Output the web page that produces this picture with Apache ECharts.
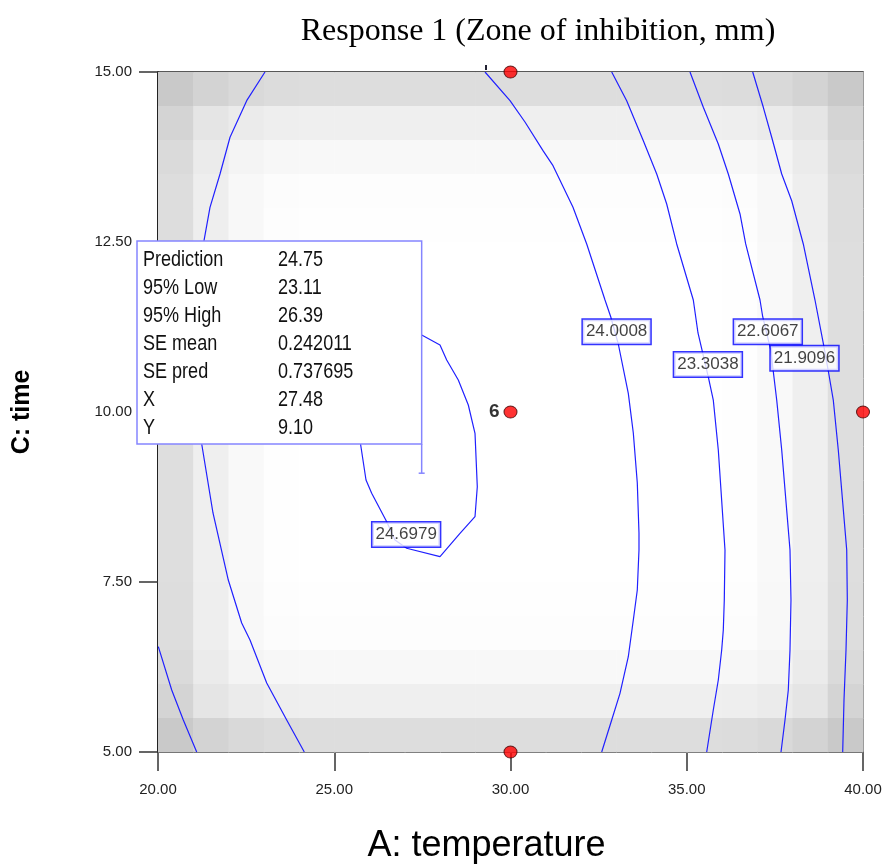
<!DOCTYPE html>
<html>
<head>
<meta charset="utf-8">
<script src="https://cdn.jsdelivr.net/npm/echarts@6/dist/echarts.min.js"></script>
<style>
html,body{margin:0;padding:0;background:#fff;}
#chart{width:882px;height:867px;}
</style>
</head>
<body>
<div id="chart"></div>
<script>
// ---------- data ----------
const titleText = 'Response 1 (Zone of inhibition, mm)';
const xName = 'A: temperature';
const yName = 'C: time';

// design points
const designX = [30, 30, 40, 30];
const designY = [15, 10, 10, 5];
const designLabel = ['', '6', '', ''];

// contour lines (data coordinates: temperature, time)
const contourA_x = [23.035,22.516,22.043,21.759,21.475,21.305,21.206,21.163,21.177,21.240,21.560,21.994,22.374,22.610,23.084,23.651,24.150];
const contourA_y = [15.000,14.578,14.040,13.500,13.010,12.519,11.647,10.765,9.882,9.529,8.515,7.529,6.897,6.647,6.015,5.471,5.000];

const contourB_x = [20.009,20.389,20.718,21.098];
const contourB_y = [6.549,5.912,5.471,5.000];

const contourC_x = [29.277,29.986,30.411,30.922,31.206,31.773,32.162,32.681,32.843,33.058,33.342,33.484,33.597,33.645,33.645,33.597,33.484,33.342,33.106,32.871,32.587];
const contourC_y = [15.000,14.578,14.265,13.843,13.622,13.010,12.471,11.647,11.401,11.000,10.275,9.691,8.956,8.221,7.971,7.382,6.941,6.401,5.863,5.471,5.000];

const contourD_x = [32.871,33.296,33.768,34.148,34.431,34.715,35.186,35.319,35.611,35.753,35.895,36.085,36.065,36.037,35.991,35.895,35.753,35.566];
const contourD_y = [15.000,14.578,13.990,13.500,13.059,12.471,11.647,11.162,10.515,10.176,9.441,7.971,7.235,6.794,6.500,6.059,5.618,5.000];

const contourE_x = [35.092,35.470,35.895,36.179,36.511,36.672,37.078,37.155,37.382,37.552,37.694,37.929,37.957,37.929,37.881,37.787,37.674];
const contourE_y = [15.000,14.481,13.941,13.500,12.912,12.471,11.647,11.401,10.912,10.176,9.441,7.971,7.235,6.500,5.912,5.471,5.000];

const contourF_x = [36.871,37.172,37.410,37.694,37.977,38.306,38.638,38.874,39.016,39.157,39.299,39.538,39.555,39.518,39.461,39.424];
const contourF_y = [15.000,14.481,14.040,13.500,13.107,12.471,11.647,11.010,10.603,10.176,9.441,7.971,7.235,6.500,5.765,5.000];

const contourG_x = [27.149,27.481,28.000,28.190,28.519,28.803,28.993,29.058,28.993,28.567,28.000,27.055,26.723,26.488,26.062,25.901,25.750,25.674];
const contourG_y = [11.176,11.132,10.985,10.765,10.471,10.103,9.687,8.901,8.460,8.216,7.872,7.996,8.118,8.387,8.804,9.000,9.515,9.809];

// contour value labels
const contourLabelText = ['24.0008','23.3038','22.6067','21.9096','24.6979'];
const contourLabelX = [33.01, 35.60, 37.30, 38.34, 27.04];
const contourLabelY = [11.18, 10.70, 11.18, 10.79, 8.20];

// standard-error shading, grey levels per cell (rows top -> bottom, columns left -> right)
const shadeEdge   = [201,211,217,220,221,221,221,221,221,221,221,221,221,221,221,221,220,217,211,201];
const shadeNear1  = [212,229,235,238,239,239,239,239,239,239,239,239,239,239,239,239,238,235,229,212];
const shadeNear2  = [218,235,244,247,248,248,248,248,248,248,248,248,248,248,248,248,247,244,235,218];
const shadeNear3  = [221,238,248,252,253,253,253,253,253,253,253,253,253,253,253,253,252,248,238,221];
const shadeNear4  = [221,238,248,253,254,254,254,254,254,254,254,254,254,254,254,254,253,248,238,221];
const shadeCenter = [222,239,249,254,255,255,255,255,255,255,255,255,255,255,255,255,254,249,239,222];
const shadeGrid = [shadeEdge, shadeNear1, shadeNear2, shadeNear3, shadeNear4,
  shadeCenter, shadeCenter, shadeCenter, shadeCenter, shadeCenter,
  shadeCenter, shadeCenter, shadeCenter, shadeCenter, shadeCenter,
  shadeNear4, shadeNear3, shadeNear2, shadeNear1, shadeEdge];

// prediction box
const tipLabels = ['Prediction','95% Low','95% High','SE mean','SE pred','X','Y'];
const tipValues = ['24.75','23.11','26.39','0.242011','0.737695','27.48','9.10'];
const tipPoint = [27.48, 9.10];

// axes
const X_MIN = 20, X_MAX = 40, X_STEP = 5;
const Y_MIN = 5, Y_MAX = 15, Y_STEP = 2.5;

// ---------- build ----------
const SANS = '"Liberation Sans",Arial,sans-serif';
const nCols = shadeGrid[0].length, nRows = shadeGrid.length;
const cellW = (X_MAX - X_MIN) / nCols, cellH = (Y_MAX - Y_MIN) / nRows;
const shadeData = [];
shadeGrid.forEach((row, r) => row.forEach((g, c) => {
  shadeData.push([X_MIN + c * cellW, Y_MAX - r * cellH, g]);
}));

const contours = [
  [contourA_x, contourA_y], [contourB_x, contourB_y], [contourC_x, contourC_y],
  [contourD_x, contourD_y], [contourE_x, contourE_y], [contourF_x, contourF_y],
  [contourG_x, contourG_y]
];
const LINE_COLOR = '#2020ff';

const series = [];
series.push({
  type: 'custom',
  z: 1,
  silent: true,
  data: shadeData,
  renderItem: function (params, api) {
    const x0 = api.value(0), y0 = api.value(1), g = api.value(2);
    const p0 = api.coord([x0, y0]);
    const p1 = api.coord([x0 + cellW, y0 - cellH]);
    return {
      type: 'rect',
      shape: { x: p0[0], y: p0[1], width: p1[0] - p0[0] + 0.6, height: p1[1] - p0[1] + 0.6 },
      style: { fill: 'rgb(' + g + ',' + g + ',' + g + ')' }
    };
  }
});
contours.forEach(function (c) {
  series.push({
    type: 'line',
    z: 2,
    silent: true,
    showSymbol: false,
    symbol: 'none',
    smooth: false,
    clip: true,
    lineStyle: { color: LINE_COLOR, width: 1.2 },
    data: c[0].map((x, i) => [x, c[1][i]])
  });
});
series.push({
  type: 'scatter',
  z: 3,
  silent: true,
  symbolSize: 0,
  clip: false,
  data: contourLabelText.map((t, i) => ({ name: t, value: [contourLabelX[i], contourLabelY[i]] })),
  label: {
    show: true,
    position: 'inside',
    formatter: '{b}',
    fontFamily: SANS,
    fontSize: 17,
    lineHeight: 19,
    color: '#111',
    backgroundColor: '#fff',
    borderColor: '#0000ff',
    borderWidth: 1.5,
    padding: [3, 3, 2, 3]
  }
});
series.push({
  type: 'scatter',
  z: 4,
  silent: true,
  clip: false,
  symbol: 'circle',
  symbolSize: [13, 12],
  itemStyle: { color: '#ff0000', borderColor: '#400', borderWidth: 1 },
  data: designX.map((x, i) => ({
    value: [x, designY[i]],
    label: {
      show: designLabel[i] !== '',
      position: 'left',
      distance: 4,
      formatter: designLabel[i],
      fontFamily: SANS,
      fontWeight: 'bold',
      fontSize: 19,
      color: '#000'
    }
  }))
});

const chart = echarts.init(document.getElementById('chart'), null, { renderer: 'canvas' });
chart.setOption({
  animation: false,
  backgroundColor: '#fff',
  title: {
    text: titleText,
    left: 533,
    top: 11,
    textAlign: 'center',
    textStyle: { fontFamily: '"Liberation Serif","Times New Roman",serif', fontWeight: 'normal', fontSize: 32, color: '#000' }
  },
  grid: {
    left: 158, top: 72, width: 705, height: 680,
    show: true, borderColor: '#222', borderWidth: 1.5, backgroundColor: 'transparent',
    containLabel: false, outerBoundsMode: 'none'
  },
  xAxis: {
    type: 'value', min: X_MIN, max: X_MAX, interval: X_STEP,
    axisLine: { show: true, onZero: false, lineStyle: { color: '#111', width: 1.5 } },
    axisTick: { show: true, length: 19, lineStyle: { color: '#333', width: 1.5 } },
    axisLabel: { formatter: v => v.toFixed(2), margin: 30, fontFamily: SANS, fontSize: 15, color: '#222', showMinLabel: true, showMaxLabel: true },
    splitLine: { show: false },
    name: xName, nameLocation: 'middle', nameGap: 76,
    nameTextStyle: { fontFamily: SANS, fontSize: 36, color: '#000', padding: [0, 48, 0, 0] }
  },
  yAxis: {
    type: 'value', min: Y_MIN, max: Y_MAX, interval: Y_STEP,
    axisLine: { show: true, onZero: false, lineStyle: { color: '#111', width: 1.5 } },
    axisTick: { show: true, length: 19, lineStyle: { color: '#333', width: 1.5 } },
    axisLabel: { formatter: v => v.toFixed(2), margin: 26, fontFamily: SANS, fontSize: 15, color: '#222', showMinLabel: true, showMaxLabel: true },
    splitLine: { show: false },
    name: yName, nameLocation: 'middle', nameGap: 123, nameRotate: 90,
    nameTextStyle: { fontFamily: SANS, fontWeight: 'bold', fontSize: 25, color: '#000' }
  },
  series: series
});

// prediction box anchored to the pointed location
const pt = chart.convertToPixel({ gridIndex: 0 }, tipPoint);
const boxLeft = 137, boxTop = 241, boxBottom = 444;
const BOX_COLOR = '#8585ff';
const graphics = [
  { type: 'rect', z: 100, shape: { x: boxLeft, y: boxTop, width: pt[0] - boxLeft, height: boxBottom - boxTop },
    style: { fill: '#fff', stroke: BOX_COLOR, lineWidth: 1.5 } },
  { type: 'line', z: 100, shape: { x1: pt[0], y1: boxBottom, x2: pt[0], y2: pt[1] }, style: { stroke: BOX_COLOR, lineWidth: 1.5 } },
  { type: 'line', z: 100, shape: { x1: pt[0] - 3, y1: pt[1], x2: pt[0] + 3, y2: pt[1] }, style: { stroke: BOX_COLOR, lineWidth: 1.5 } },
  { type: 'rect', z: 100, shape: { x: 485, y: 65, width: 2, height: 5 }, style: { fill: '#223' } }
];
tipLabels.forEach(function (t, i) {
  const cy = 260 + 28 * i;
  graphics.push({ type: 'text', z: 101, x: boxLeft + 6, y: cy, scaleX: 0.82,
    style: { text: t, fontFamily: SANS, fontSize: 22, fill: '#111', verticalAlign: 'middle', align: 'left' } });
  graphics.push({ type: 'text', z: 101, x: 278, y: cy, scaleX: 0.82,
    style: { text: tipValues[i], fontFamily: SANS, fontSize: 22, fill: '#111', verticalAlign: 'middle', align: 'left' } });
});
chart.setOption({ graphic: graphics });
</script>
</body>
</html>
